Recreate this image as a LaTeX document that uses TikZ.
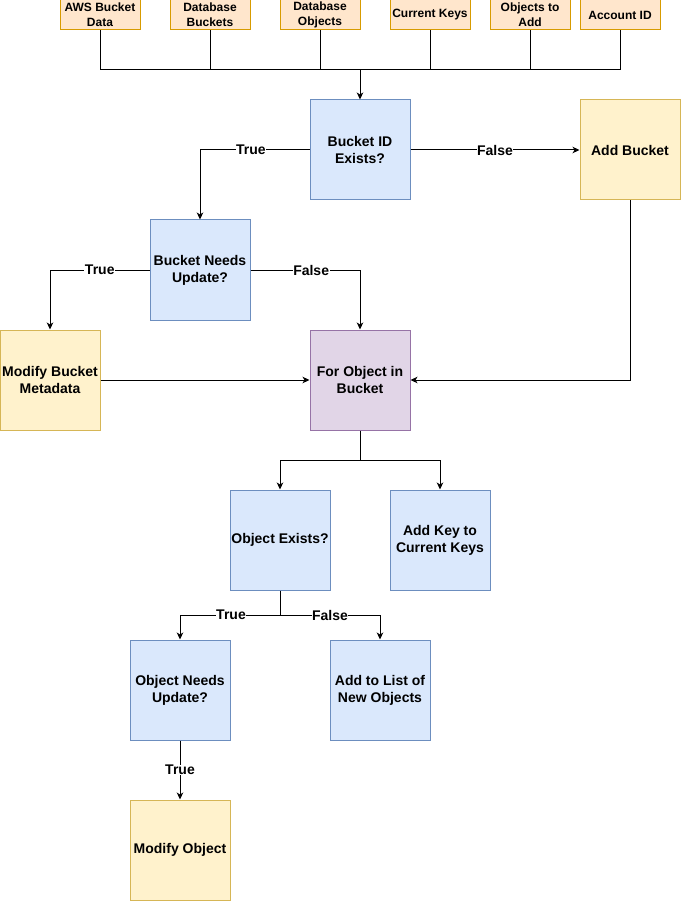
\documentclass[tikz,border=0pt]{standalone}
\usepackage{fontspec}
\setmainfont{Liberation Sans}
\usetikzlibrary{arrows.meta}
\definecolor{bluef}{HTML}{DAE8FC}
\definecolor{blued}{HTML}{6C8EBF}
\definecolor{yelf}{HTML}{FFF2CC}
\definecolor{yeld}{HTML}{D6B656}
\definecolor{purf}{HTML}{E1D5E7}
\definecolor{purd}{HTML}{9673A6}
\definecolor{oraf}{HTML}{FFE6CC}
\definecolor{orad}{HTML}{D79B00}
\tikzset{
  box/.style={draw, line width=1pt, minimum width=100pt, minimum height=100pt, inner sep=0pt, align=center, font=\fontsize{14}{17}\selectfont\bfseries},
  bluebox/.style={box, fill=bluef, draw=blued},
  yelbox/.style={box, fill=yelf, draw=yeld},
  purbox/.style={box, fill=purf, draw=purd},
  inbox/.style={draw=orad, fill=oraf, line width=1pt, minimum width=80pt, minimum height=30pt, inner sep=0pt, align=center, font=\fontsize{12}{15}\selectfont\bfseries},
  wire/.style={line width=1pt},
  conn/.style={line width=1pt, -{Stealth[length=7pt,width=6.5pt,inset=2pt]}},
  lbl/.style={fill=white, inner sep=0.5pt, font=\fontsize{14}{17}\selectfont\bfseries}
}
\begin{document}
\begin{tikzpicture}[x=1pt,y=-1pt]
\useasboundingbox (0,0) rectangle (681,901);
% inputs
\node[inbox] (aws) at (100,15) {AWS Bucket\\Data};
\node[inbox] (dbb) at (210,15) {Database\\Buckets};
\node[inbox] (dbo) at (320,15) {Database\\Objects};
\node[inbox] (ck) at (430,15) {Current Keys};
\node[inbox] (ota) at (530,15) {Objects to\\Add};
\node[inbox] (acc) at (620,15) {Account ID};
% main boxes
\node[bluebox] (bid) at (360,150) {Bucket ID\\Exists?};
\node[yelbox] (add) at (630,150) {Add Bucket};
\node[bluebox] (bnu) at (200,270) {Bucket Needs\\Update?};
\node[yelbox] (mbm) at (50,380) {Modify Bucket\\Metadata};
\node[purbox] (fob) at (360,380) {For Object in\\Bucket};
\node[bluebox] (oe) at (280,540) {Object Exists?};
\node[bluebox] (ak) at (440,540) {Add Key to\\Current Keys};
\node[bluebox] (onu) at (180,690) {Object Needs\\Update?};
\node[bluebox] (aln) at (380,690) {Add to List of\\New Objects};
\node[yelbox] (mo) at (180,850) {Modify Object};
% junctions
\coordinate (J1) at (360,70);
\coordinate (J2) at (360,460);
\coordinate (J3) at (280,615);
% bus
\draw[wire] (aws.south) |- (J1);
\draw[wire] (dbb.south) |- (J1);
\draw[wire] (dbo.south) |- (J1);
\draw[wire] (ck.south) |- (J1);
\draw[wire] (ota.south) |- (J1);
\draw[wire] (acc.south) |- (J1);
\draw[conn] (J1) -- (bid.north);
% edges
\draw[conn] (bid.west) -| (bnu.north) node[lbl, pos=0.268] {True};
\draw[conn] (bid.east) -- (add.west) node[lbl, pos=0.5] {False};
\draw[conn] (bnu.west) -| (mbm.north) node[lbl, pos=0.25] {True};
\draw[conn] (bnu.east) -| (fob.north) node[lbl, pos=0.277] {False};
\draw[conn] (mbm.east) -- (fob.west);
\draw[conn] (add.south) |- (fob.east);
\draw[wire] (fob.south) -- (J2);
\draw[conn] (J2) -| (oe.north);
\draw[conn] (J2) -| (ak.north);
\draw[wire] (oe.south) -- (J3);
\draw[conn] (J3) -| (onu.north) node[lbl, pos=0.245] {True};
\draw[conn] (J3) -| (aln.north) node[lbl, pos=0.25] {False};
\draw[conn] (onu.south) -- (mo.north) node[lbl, pos=0.5] {True};
\end{tikzpicture}
\end{document}
